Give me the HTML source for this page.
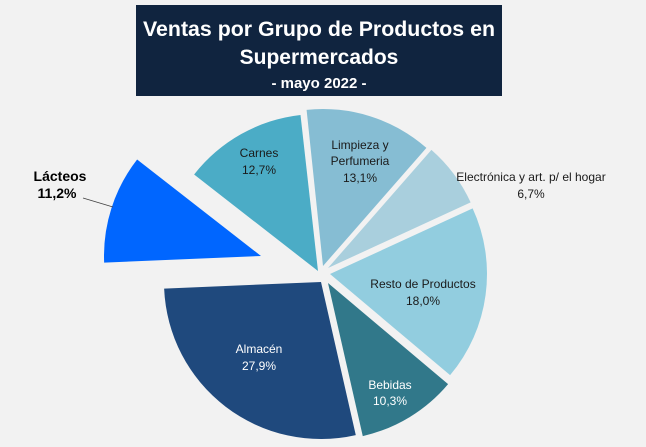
<!DOCTYPE html>
<html><head><meta charset="utf-8"><style>
html,body{margin:0;padding:0;background:#f2f2f2;}
svg{display:block;font-family:"Liberation Sans",sans-serif;}
</style></head><body>
<svg id="s" width="646" height="447" viewBox="0 0 646 447">
<rect width="646" height="447" fill="#f2f2f2"/>
<rect x="136" y="5" width="366" height="91" fill="#10243f"/>
<text x="319" y="36" fill="#fff" font-size="21" font-weight="bold" text-anchor="middle" textLength="352" lengthAdjust="spacingAndGlyphs">Ventas por Grupo de Productos en</text>
<text x="319" y="64" fill="#fff" font-size="21" font-weight="bold" text-anchor="middle">Supermercados</text>
<text x="319" y="88" fill="#fff" font-size="15" font-weight="bold" text-anchor="middle">- mayo 2022 -</text>
<g id="pie"></g>
<line x1="83" y1="198" x2="113" y2="207" stroke="#404040" stroke-width="0.8"/>
<g font-size="12" text-anchor="middle" fill="#1a1a1a">
<text x="259" y="157">Carnes</text><text x="259" y="174">12,7%</text>
<text x="360" y="149">Limpieza y</text><text x="360" y="165">Perfumeria</text><text x="360" y="182">13,1%</text>
<text x="531" y="181">Electrónica y art. p/ el hogar</text><text x="531" y="198">6,7%</text>
<text x="423" y="288">Resto de Productos</text><text x="423" y="305">18,0%</text>
<text x="390" y="389" fill="#fff">Bebidas</text><text x="390" y="405" fill="#fff">10,3%</text>
<text x="259" y="353" fill="#fff">Almacén</text><text x="259" y="370" fill="#fff">27,9%</text>
<text x="60" y="181" font-size="14" font-weight="bold" fill="#000">Lácteos</text>
<text x="57" y="198" font-size="14" font-weight="bold" fill="#000">11,2%</text>
</g>
</svg>
<script>
var r=157,g=document.getElementById('pie'),off=-6;
var sl=[[0,47.2,323,266,'#86bdd3'],[47.2,71.3,328,268,'#a9cfdd'],[71.3,136.1,330,274,'#92cddf'],
[136.1,173.2,328,283,'#31788a'],[173.2,273.6,321,282,'#1f497d'],[273.6,313.9,261,256,'#0066ff'],[313.9,359.6,318,271,'#4bacc6']];
sl.forEach(function(s){var a=(s[0]+off)*Math.PI/180,b=(s[1]+off)*Math.PI/180,tx=s[2],ty=s[3];
var x1=tx+r*Math.sin(a),y1=ty-r*Math.cos(a),x2=tx+r*Math.sin(b),y2=ty-r*Math.cos(b);
var p=document.createElementNS('http://www.w3.org/2000/svg','path');
p.setAttribute('d','M'+tx+','+ty+'L'+x1+','+y1+'A'+r+','+r+' 0 '+((s[1]-s[0])>180?1:0)+' 1 '+x2+','+y2+'Z');
p.setAttribute('fill',s[4]);g.appendChild(p);});
</script>
</body></html>
